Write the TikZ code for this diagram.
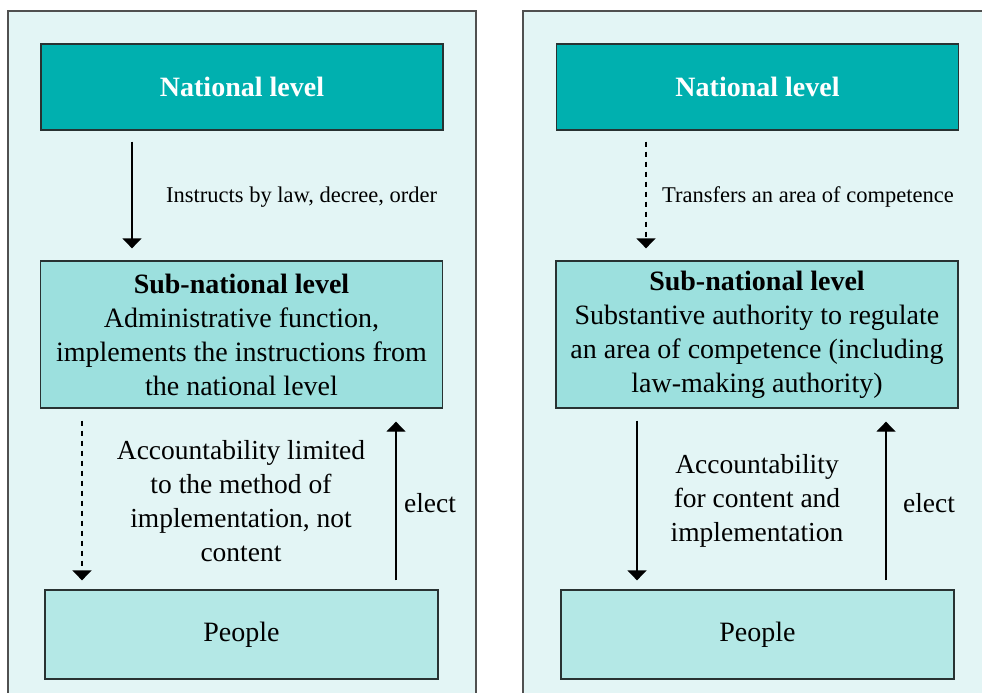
\documentclass[tikz,border=0pt]{standalone}
\usepackage{fontspec}
\setmainfont{Liberation Serif}
\usetikzlibrary{arrows.meta}
\definecolor{natfill}{RGB}{0,176,175}
\definecolor{subfill}{RGB}{156,224,222}
\definecolor{pplfill}{RGB}{180,232,230}
\definecolor{panelbg}{RGB}{227,245,245}
\definecolor{boxline}{RGB}{40,50,50}
\definecolor{panelline}{RGB}{80,80,80}
\begin{document}
\begin{tikzpicture}[x=1pt,y=-1pt,
  panel/.style={draw=panelline,line width=1.3pt,fill=panelbg},
  natbox/.style={draw=boxline,line width=1.3pt,fill=natfill,minimum width=402pt,minimum height=86pt,inner sep=0pt,text=white,font=\fontsize{28}{34}\selectfont\bfseries},
  subbox/.style={draw=boxline,line width=1.3pt,fill=subfill,minimum width=402pt,minimum height=147pt,inner sep=0pt,align=center,font=\fontsize{28}{34}\selectfont},
  pplbox/.style={draw=boxline,line width=1.3pt,fill=pplfill,minimum width=393pt,minimum height=89pt,inner sep=0pt,font=\fontsize{28}{34}\selectfont},
  conn/.style={line width=1.3pt,-{Triangle[width=19pt,length=10pt]}},
  dconn/.style={conn,line width=1.4pt,dash pattern=on 5pt off 5pt},
  smalllbl/.style={inner sep=0pt,font=\fontsize{22.5}{27}\selectfont},
  biglbl/.style={inner sep=0pt,align=center,font=\fontsize{27.5}{34}\selectfont}
]
\useasboundingbox (0,0) rectangle (982,693);
\clip (0,0) rectangle (982,693);
\draw[panel] (8,11) rectangle (476,710);
\draw[panel] (523,11) rectangle (1000,710);

% left column
\node[natbox] (natL) at (242,87) {National level};
\node[subbox] (subL) at (241.5,334.5) {\textbf{Sub-national level}\\Administrative function,\\implements the instructions from\\the national level};
\node[pplbox] (pplL) at (241.5,634.5) {People};

\draw[conn] ([xshift=-110pt,yshift=-11pt]natL.south) -- ([xshift=-109.5pt,yshift=12pt]subL.north);
\node[smalllbl,anchor=west] (lblL1) at (166,197) {Instructs by law, decree, order};

\draw[dconn] ([xshift=-159.5pt,yshift=-12pt]subL.south) -- ([xshift=-159.5pt,yshift=9pt]pplL.north);
\draw[conn] ([xshift=154.5pt,yshift=9pt]pplL.north) -- ([xshift=154.5pt,yshift=-13pt]subL.south);
\node[biglbl] (lblL2) at (241,501) {Accountability limited\\to the method of\\implementation, not\\content};
\node[biglbl] (electL) at (430,503) {elect};

% right column
\node[natbox] (natR) at (757.5,87) {National level};
\node[subbox] (subR) at (757,334.5) {\textbf{Sub-national level}\\Substantive authority to regulate\\an area of competence (including\\law-making authority)};
\node[pplbox] (pplR) at (757.5,634.5) {People};

\draw[dconn] ([xshift=-111.5pt,yshift=-11pt]natR.south) -- ([xshift=-111pt,yshift=12pt]subR.north);
\node[smalllbl,anchor=west] (lblR1) at (662,197) {Transfers an area of competence};

\draw[conn] ([xshift=-120pt,yshift=-12pt]subR.south) -- ([xshift=-120.5pt,yshift=9pt]pplR.north);
\draw[conn] ([xshift=128.5pt,yshift=9pt]pplR.north) -- ([xshift=129pt,yshift=-13pt]subR.south);
\node[biglbl] (lblR2) at (757,501) {Accountability\\for content and\\implementation};
\node[biglbl] (electR) at (929,503) {elect};
\end{tikzpicture}
\end{document}
